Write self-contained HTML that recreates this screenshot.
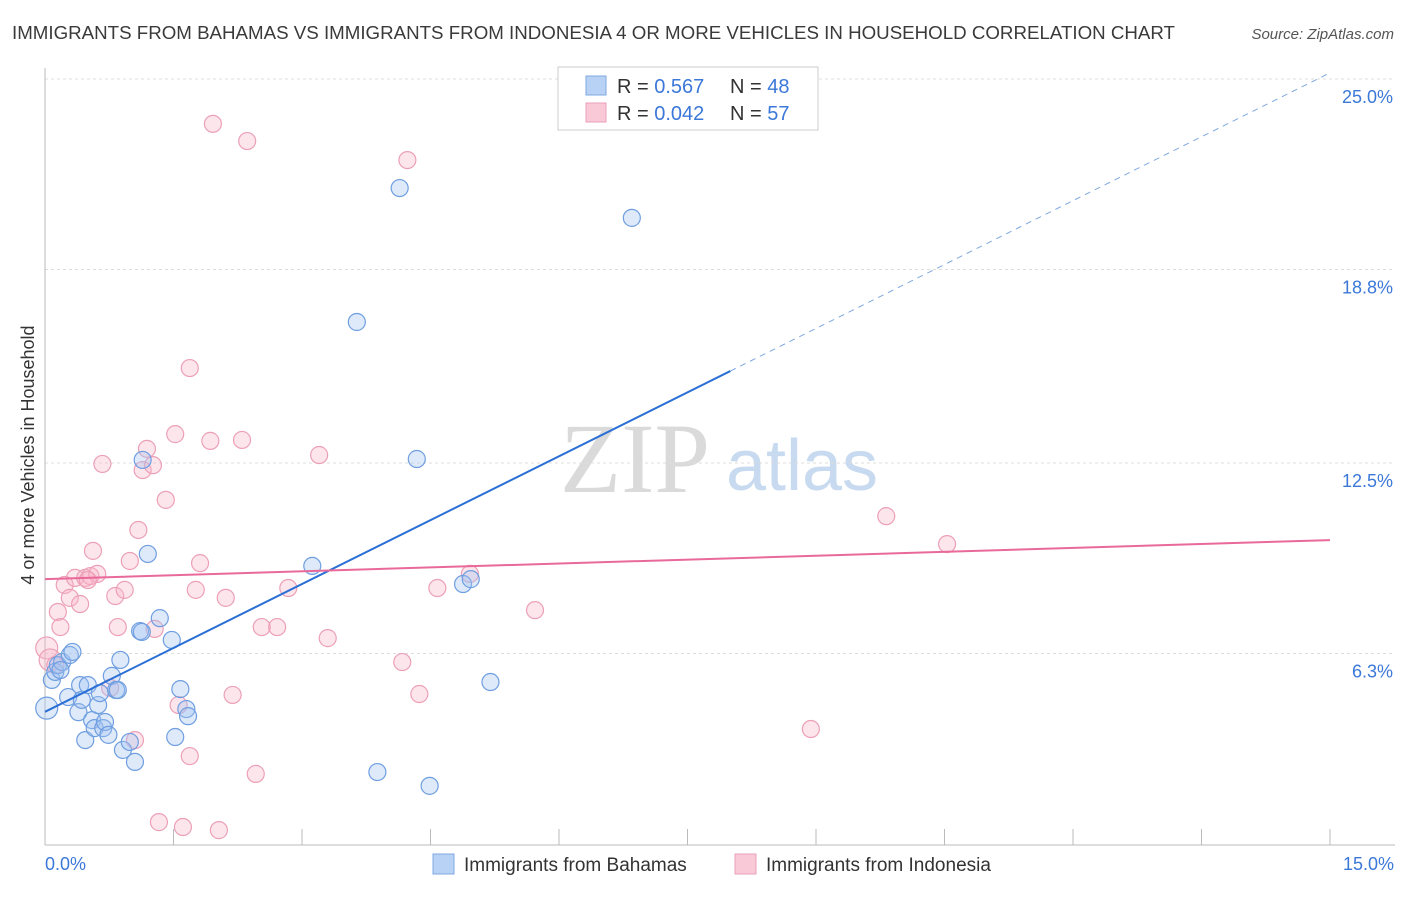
<!DOCTYPE html>
<html><head><meta charset="utf-8"><style>
body{margin:0;background:#fff;font-family:"Liberation Sans",sans-serif;}
</style></head><body>
<svg id="chart" width="1406" height="892" xmlns="http://www.w3.org/2000/svg">
<text x="12" y="39" font-size="18" fill="#3a3a3a" textLength="1163" lengthAdjust="spacingAndGlyphs">IMMIGRANTS FROM BAHAMAS VS IMMIGRANTS FROM INDONESIA 4 OR MORE VEHICLES IN HOUSEHOLD CORRELATION CHART</text>
<text x="1394" y="39" font-size="15" fill="#555" font-style="italic" text-anchor="end">Source: ZipAtlas.com</text>
<g>
<text x="635" y="492" font-size="100" fill="#dadada" font-family="Liberation Serif,serif" text-anchor="middle">ZIP</text>
<text x="802" y="490" font-size="72" fill="#c8daf0" text-anchor="middle">atlas</text>
</g>
<g id="grid"></g>
<g id="axes"></g>
<g id="marks"></g>
<text transform="translate(34,455) rotate(-90)" font-size="18" fill="#333" text-anchor="middle">4 or more Vehicles in Household</text>
<g>
<rect x="558" y="67" width="260" height="63" fill="#fff" stroke="#ccc"/>
<rect x="586" y="76" width="20" height="19" fill="#b8d2f5" stroke="#7fa8e0"/>
<rect x="586" y="103" width="20" height="19" fill="#f9c9d8" stroke="#eba0b8"/>
<text x="617" y="93" font-size="20" fill="#333">R = <tspan fill="#3b78d8">0.567</tspan></text>
<text x="730" y="93" font-size="20" fill="#333">N = <tspan fill="#3b78d8">48</tspan></text>
<text x="617" y="120" font-size="20" fill="#333">R = <tspan fill="#3b78d8">0.042</tspan></text>
<text x="730" y="120" font-size="20" fill="#333">N = <tspan fill="#3b78d8">57</tspan></text>
</g>
<g>
<rect x="433" y="854" width="21" height="20" fill="#b8d2f5" stroke="#7fa8e0"/>
<text x="464" y="871" font-size="19" fill="#333">Immigrants from Bahamas</text>
<rect x="735" y="854" width="21" height="20" fill="#f9c9d8" stroke="#eba0b8"/>
<text x="766" y="871" font-size="19" fill="#333">Immigrants from Indonesia</text>
</g>
</svg>
<script>
const yTicks=[6.3,12.5,18.8,25.0];
const yTickLabels=["6.3%","12.5%","18.8%","25.0%"];
const xTicks=[0,1.5,3,4.5,6,7.5,9,10.5,12,13.5,15];
const blueX=[0.02,0.08,0.12,0.15,0.20,0.27,0.29,0.32,0.39,0.41,0.43,0.47,0.50,0.55,0.58,0.62,0.64,0.68,0.70,0.74,0.78,0.83,0.88,0.91,0.99,1.05,1.11,1.14,1.20,1.34,1.48,1.52,1.58,1.65,1.67,3.12,3.64,3.88,4.14,4.34,4.49,4.88,4.97,5.20,6.85,1.13,0.85,0.18];
const blueY=[4.52,5.44,5.70,5.92,6.02,4.88,6.25,6.35,4.39,5.27,4.79,3.48,5.27,4.13,3.87,4.62,5.01,3.87,4.07,3.65,5.57,5.11,6.09,3.16,3.42,2.77,7.03,12.60,9.54,7.45,6.74,3.58,5.14,4.49,4.26,9.15,17.09,2.44,21.45,12.63,1.99,8.56,8.72,5.37,20.48,7.00,5.11,5.76];
const pinkX=[0.02,0.06,0.12,0.15,0.18,0.23,0.29,0.35,0.41,0.47,0.53,0.56,0.61,0.67,0.76,0.82,0.85,0.93,0.99,1.05,1.09,1.14,1.19,1.26,1.28,1.33,1.41,1.52,1.56,1.61,1.69,1.69,1.76,1.81,1.93,1.96,2.03,2.11,2.19,2.30,2.36,2.46,2.53,2.71,2.84,3.20,3.30,4.17,4.23,4.37,4.58,4.96,5.72,8.94,9.82,10.53,0.50];
const pinkY=[6.48,6.09,5.92,7.65,7.16,8.53,8.11,8.76,7.91,8.76,8.82,9.64,8.89,12.47,5.18,8.17,7.16,8.37,9.31,3.48,10.32,12.27,12.96,12.43,7.10,0.81,11.30,13.44,4.62,0.65,15.59,2.96,8.37,9.24,13.22,23.54,0.55,8.11,4.95,13.25,22.98,2.38,7.16,7.16,8.43,12.76,6.80,6.02,22.36,4.98,8.43,8.89,7.71,3.84,10.77,9.86,8.69];
const blueTrend=[4.4,25.2];
const pinkTrend=[8.72,9.99];
const NS="http://www.w3.org/2000/svg";
const X0=45,X1=1330,Y0=845;
function sx(v){return X0+v/15*(X1-X0);}
function sy(v){return 79+(25-v)*30.72;}
function mk(t,a,p){const e=document.createElementNS(NS,t);for(const k in a)e.setAttribute(k,a[k]);p.appendChild(e);return e;}
const grid=document.getElementById('grid'),axes=document.getElementById('axes'),marks=document.getElementById('marks');
yTicks.forEach((t,i)=>{
 const l=mk('line',{x1:X0,x2:1395,y1:sy(t),y2:sy(t),stroke:'#ddd','stroke-dasharray':'3,3'},grid);
 
 
 const tx=mk('text',{x:1393,y:sy(t)+24,'font-size':18,fill:'#3b78d8','text-anchor':'end'},axes);
 tx.textContent=yTickLabels[i];
 
 
});
const la=mk('line',{x1:X0,x2:X0,y1:68,y2:Y0,stroke:'#bbb'},axes);


const ba=mk('line',{x1:X0,x2:1395,y1:Y0,y2:Y0,stroke:'#bbb'},axes);


xTicks.forEach(t=>{
 const l=mk('line',{x1:sx(t),x2:sx(t),y1:829,y2:Y0,stroke:'#bbb'},axes);
 
 
});
const xl0=mk('text',{x:45,y:870,'font-size':18,fill:'#3b78d8'},axes);xl0.textContent='0.0%';


const xl1=mk('text',{x:1394,y:870,'font-size':18,fill:'#3b78d8','text-anchor':'end'},axes);xl1.textContent='15.0%';


pinkX.forEach((x,i)=>{
 const c=mk('circle',{cx:sx(x),cy:sy(pinkY[i]),r:i<2?11:8.5,fill:'rgba(248,180,200,0.35)',stroke:'#eca0b8','stroke-width':1.2},marks);
 
 
});
blueX.forEach((x,i)=>{
 const c=mk('circle',{cx:sx(x),cy:sy(blueY[i]),r:i==0?11:8.5,fill:'rgba(160,195,240,0.35)',stroke:'#6f9ee0','stroke-width':1.2},marks);
 
 
});
const xs=8.0;
const bAt=v=>blueTrend[0]+(blueTrend[1]-blueTrend[0])*v/15;
const b1=mk('line',{x1:sx(0),y1:sy(bAt(0)),x2:sx(xs),y2:sy(bAt(xs)),stroke:'#2a6fd6','stroke-width':2},marks);


const b2=mk('line',{x1:sx(xs),y1:sy(bAt(xs)),x2:sx(15),y2:sy(bAt(15)),stroke:'#7fa8e0','stroke-width':1,'stroke-dasharray':'6,5'},marks);


const p1=mk('line',{x1:sx(0),y1:sy(pinkTrend[0]),x2:sx(15),y2:sy(pinkTrend[1]),stroke:'#e8699a','stroke-width':2},marks);


</script>
</body></html>
